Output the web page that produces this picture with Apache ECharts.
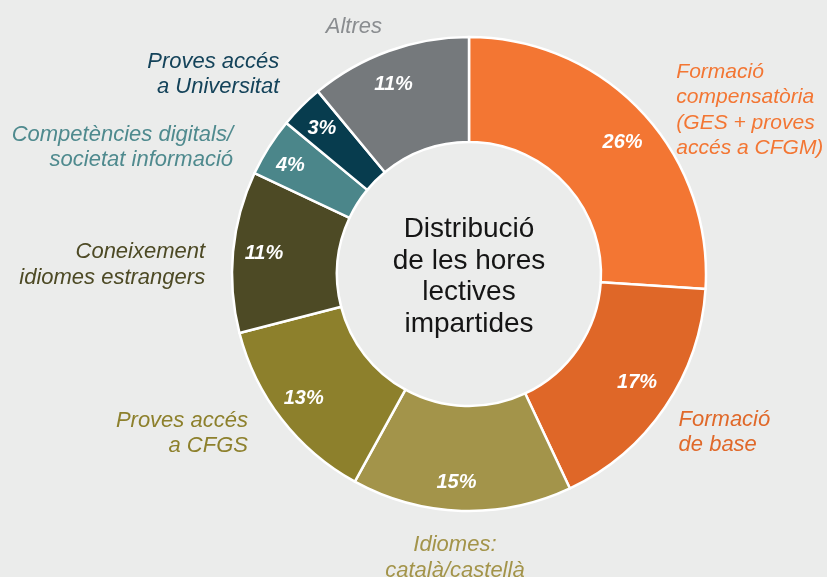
<!DOCTYPE html>
<html>
<head>
<meta charset="utf-8">
<style>
  html, body { margin: 0; padding: 0; background: #ebeceb; }
  #main { width: 827px; height: 577px; }
</style>
<script src="https://cdn.jsdelivr.net/npm/echarts@6/dist/echarts.min.js"></script>
</head>
<body>
<div id="main"></div>
<script>
// dades del gràfic
var categories = [
  'Formació\ncompensatòria\n(GES + proves\naccés a CFGM)',
  'Formació\nde base',
  'Idiomes:\ncatalà/castellà',
  'Proves accés\na CFGS',
  'Coneixement\nidiomes estrangers',
  'Competències digitals/\nsocietat informació',
  'Proves accés\na Universitat',
  'Altres'
];
var values = [26, 17, 15, 13, 11, 4, 3, 11];
var sliceColors = ['#f37633', '#df6728', '#a3944a', '#8d802c', '#4d4a25', '#4b868a', '#073c4e', '#75797c'];
var labelColors = ['#f37633', '#e0692a', '#a3944a', '#8d802c', '#4d4a25', '#4f8a8e', '#14435a', '#8a8d90'];

// petits ajustos de les etiquetes
var labelNudge = [[14, 12], [-9, 14], [0, 27], [-12, 2], [-2, 15], [-13, 11], [-2, -18], [6, -5]];
var pctNudge = [[2, 11], [-4, -8], [-6, 1], [-1, -3], [2, -1], [-3, 3], [0, 2], [-5, 6]];

var chart = echarts.init(document.getElementById('main'));

var pieData = categories.map(function (name, i) {
  return {
    name: name,
    value: values[i],
    itemStyle: { color: sliceColors[i] },
    label: { color: labelColors[i], fontSize: i === 0 ? 21 : 22 }
  };
});

var option = {
  backgroundColor: '#ebeceb',
  animation: false,
  title: {
    text: 'Distribució\nde les hores\nlectives\nimpartides',
    left: 464,
    top: 209,
    textAlign: 'center',
    textStyle: {
      fontFamily: 'Liberation Sans',
      fontSize: 28,
      fontWeight: 'normal',
      lineHeight: 31.5,
      color: '#151515'
    }
  },
  series: [
    {
      type: 'pie',
      center: [469, 274],
      radius: [132, 237],
      startAngle: 90,
      clockwise: true,
      avoidLabelOverlap: false,
      silent: true,
      data: pieData,
      itemStyle: { borderColor: '#ffffff', borderWidth: 2.5 },
      label: {
        show: true,
        position: 'outside',
        formatter: '{b}',
        fontFamily: 'Liberation Sans',
        fontStyle: 'italic',
        fontSize: 22,
        lineHeight: 25.5,
        distanceToLabelLine: 6
      },
      labelLine: { show: false, length: 20, length2: 0 },
      labelLayout: function (params) {
        var n = labelNudge[params.dataIndex];
        var res = { dx: n[0], dy: n[1] };
        if (params.dataIndex === 2) {
          res.align = 'center';
        }
        return res;
      }
    },
    {
      type: 'pie',
      center: [469, 274],
      radius: [173, 237],
      startAngle: 90,
      clockwise: true,
      silent: true,
      data: values.map(function (v, i) {
        return { name: categories[i], value: v };
      }),
      itemStyle: { color: 'transparent' },
      label: {
        show: true,
        position: 'inside',
        formatter: '{c}%',
        color: '#ffffff',
        fontFamily: 'Liberation Sans',
        fontStyle: 'italic',
        fontWeight: 'bold',
        fontSize: 20
      },
      labelLine: { show: false },
      labelLayout: function (params) {
        var n = pctNudge[params.dataIndex];
        return { dx: n[0], dy: n[1] };
      }
    }
  ]
};

chart.setOption(option);
</script>
</body>
</html>
